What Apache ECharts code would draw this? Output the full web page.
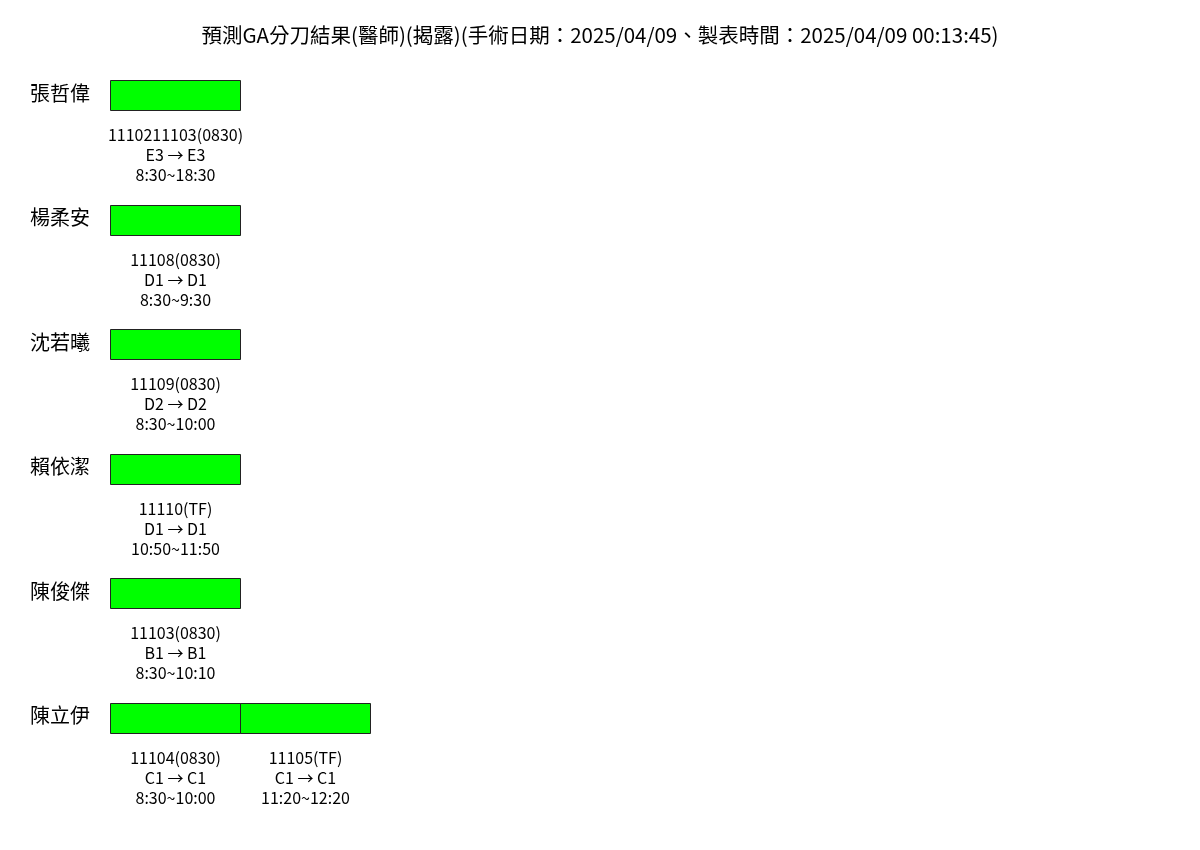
<!DOCTYPE html>
<html>
<head>
<meta charset="utf-8">
<script src="https://cdn.jsdelivr.net/npm/echarts@6/dist/echarts.min.js"></script>
<style>html,body{margin:0;padding:0;background:#fff}#c{width:1200px;height:850px}</style>
</head>
<body>
<div id="c"></div>
<script>
const titleText = '預測GA分刀結果(醫師)(揭露)(手術日期：2025/04/09、製表時間：2025/04/09 00:13:45)';
const doctors = ['張哲偉', '楊柔安', '沈若曦', '賴依潔', '陳俊傑', '陳立伊'];
const caseDoctor = [0, 1, 2, 3, 4, 5, 5];
const caseSlot = [0, 0, 0, 0, 0, 0, 1];
const caseIds = ['1110211103(0830)', '11108(0830)', '11109(0830)', '11110(TF)', '11103(0830)', '11104(0830)', '11105(TF)'];
const caseRooms = ['E3 → E3', 'D1 → D1', 'D2 → D2', 'D1 → D1', 'B1 → B1', 'C1 → C1', 'C1 → C1'];
const caseTimes = ['8:30~18:30', '8:30~9:30', '8:30~10:00', '10:50~11:50', '8:30~10:10', '8:30~10:00', '11:20~12:20'];

const FONT = '"Noto Sans CJK TC", "Noto Sans", sans-serif';
const data = caseDoctor.map((d, i) => [caseSlot[i], d, i]);

const chart = echarts.init(document.getElementById('c'), null, { renderer: 'canvas' });
chart.setOption({
  animation: false,
  backgroundColor: '#fff',
  title: {
    text: titleText,
    left: 'center',
    top: 20,
    textStyle: { fontFamily: FONT, fontSize: 20.5, fontWeight: 'normal', color: '#000' }
  },
  grid: { left: 110, right: 50, top: 95, bottom: 5 },
  xAxis: {
    type: 'value', min: 0, max: 8, show: false
  },
  yAxis: {
    type: 'value', min: 0, max: 6, interval: 1, inverse: true,
    axisLine: { show: false }, axisTick: { show: false }, splitLine: { show: false },
    axisLabel: {
      margin: 20,
      fontFamily: FONT, fontSize: 20, color: '#000',
      verticalAlign: 'bottom', lineHeight: 20, padding: [0, 0, -8, 0],
      formatter: v => doctors[v] !== undefined ? doctors[v] : ''
    }
  },
  series: [{
    type: 'custom',
    data: data,
    encode: { x: 0, y: 1 },
    renderItem: function (params, api) {
      const slot = api.value(0), row = api.value(1), idx = api.value(2);
      const p0 = api.coord([slot, row]);
      const p1 = api.coord([slot + 1, row]);
      const x0 = Math.round(p0[0]) + 0.5;
      const w = Math.round(p1[0]) - Math.round(p0[0]);
      const y0 = Math.round(p0[1]) - 15 + 0.5;
      return {
        type: 'group',
        children: [{
          type: 'rect',
          shape: { x: x0, y: y0, width: w, height: 30 },
          style: { fill: '#00ff00', stroke: '#222', lineWidth: 1 }
        }, {
          type: 'text',
          style: {
            x: (x0 + x0 + w) / 2,
            y: y0 + 30 + 14,
            text: caseIds[idx] + '\n' + caseRooms[idx] + '\n' + caseTimes[idx],
            align: 'center',
            verticalAlign: 'top',
            lineHeight: 20,
            fontSize: 16,
            fontFamily: FONT,
            fill: '#000'
          }
        }]
      };
    }
  }]
});
</script>
</body>
</html>
